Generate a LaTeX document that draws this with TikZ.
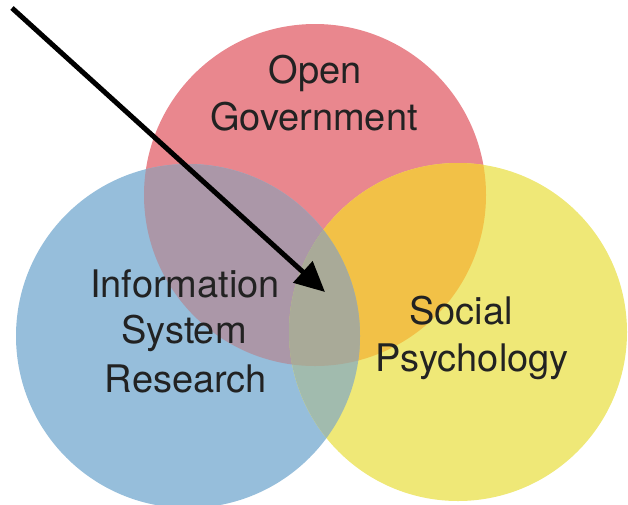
\documentclass[tikz,border=0pt]{standalone}
\usepackage{fontspec}
\setmainfont{TeX Gyre Heros}
\usetikzlibrary{arrows.meta}
\definecolor{cred}{HTML}{E9878E}
\definecolor{cblue}{HTML}{96BEDB}
\definecolor{cyellow}{HTML}{EFE877}
\definecolor{crb}{HTML}{AB97A8}
\definecolor{cry}{HTML}{F2C147}
\definecolor{cby}{HTML}{A1BBAE}
\definecolor{crby}{HTML}{A9AA98}
\definecolor{ctext}{HTML}{222222}
\tikzset{
  lbl/.style={font=\fontsize{38}{46}\selectfont, text=ctext, inner sep=0pt, anchor=base},
  pointer/.style={line width=5pt, -{Triangle[length=30pt,width=28pt]}, black}
}
\begin{document}
\begin{tikzpicture}[x=1pt,y=-1pt]
\useasboundingbox (0,0) rectangle (628,504);
\clip (0,0) rectangle (628,504);
\def\red{(315,195) circle[radius=171]}
\def\blue{(188,336) circle[radius=172]}
\def\yellow{(458,332) circle[radius=169]}
\fill[cred] \red;
\fill[cblue] \blue;
\fill[cyellow] \yellow;
\begin{scope}\clip \red; \fill[crb] \blue; \end{scope}
\begin{scope}\clip \red; \fill[cry] \yellow; \end{scope}
\begin{scope}\clip \blue; \fill[cby] \yellow; \end{scope}
\begin{scope}\clip \red; \clip \blue; \fill[crby] \yellow; \end{scope}
\node[lbl] (og1) at (315,83) {Open};
\node[lbl] (og2) at (314,130) {Government};
\node[lbl] (is1) at (185,297) {Information};
\node[lbl] (is2) at (184,343) {System};
\node[lbl] (is3) at (186,392) {Research};
\node[lbl] (sp1) at (461,324) {Social};
\node[lbl] (sp2) at (472,371) {Psychology};
\coordinate (start) at (12,8);
\coordinate (tip) at (325,292);
\draw[pointer] (start) -- (tip);
\end{tikzpicture}
\end{document}
